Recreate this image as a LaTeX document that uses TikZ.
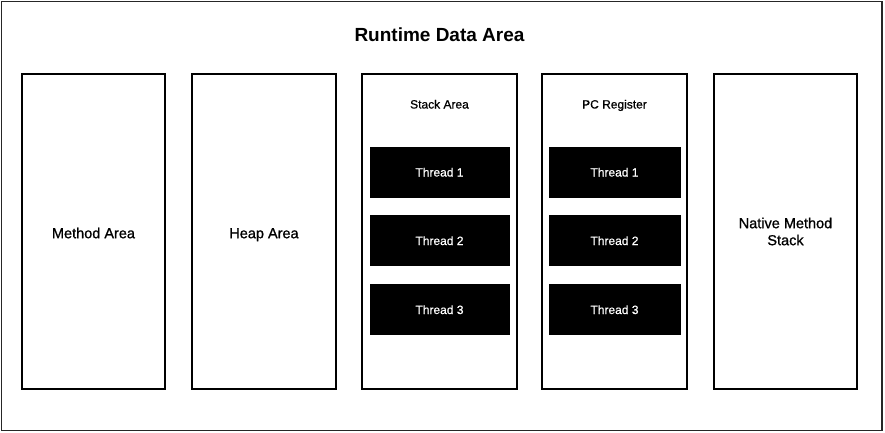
\documentclass[tikz,border=0pt]{standalone}
\usepackage{fontspec}
\setmainfont{Liberation Sans}
\newfontfamily\medfont[FakeBold=0.9]{Liberation Sans}
\newfontfamily\smallfont[FakeBold=0.7]{Liberation Sans}
\begin{document}
\begin{tikzpicture}[x=1pt,y=-1pt,
  area/.style={draw=black, line width=2pt, fill=white, inner sep=0pt, minimum height=315pt, align=center, font=\medfont\fontsize{14.5}{17}\selectfont},
  threadbox/.style={draw=black, fill=black, text=white, inner sep=0pt, minimum height=50pt, text height=9pt, text depth=0pt, font=\smallfont\fontsize{12}{14}\selectfont},
  label/.style={inner sep=0pt, text height=9pt, text depth=0pt, font=\smallfont\fontsize{12}{14}\selectfont}]
\useasboundingbox (0,0) rectangle (885,432);
\node[draw=black!85, line width=1.5pt, inner sep=0pt, minimum width=880.5pt, minimum height=429pt] (outer) at (441.75,216) {};
\node[inner sep=0pt, font=\bfseries\fontsize{19}{22}\selectfont] (title) at (439.5,35) {Runtime Data Area};
\node[area, minimum width=143pt, text height=13.4pt, text depth=0pt] (method) at (93.5,231.5) {Method Area};
\node[area, minimum width=144pt, text height=13.4pt, text depth=0pt] (heap) at (264,231.5) {Heap Area};
\node[area, minimum width=155pt] (stack) at (439.5,231.5) {};
\node[area, minimum width=145pt] (pc) at (614.5,231.5) {};
\node[area, minimum width=143pt] (native) at (785.5,231.5) {Native Method\\Stack};
\node[label] (stacklbl) at (439.5,104) {Stack Area};
\node[label] (pclbl) at (614.5,104) {PC Register};
\node[threadbox, minimum width=139pt] (s1) at (439.5,172) {Thread 1};
\node[threadbox, minimum width=139pt] (s2) at (439.5,240.5) {Thread 2};
\node[threadbox, minimum width=139pt] (s3) at (439.5,309.5) {Thread 3};
\node[threadbox, minimum width=131pt] (p1) at (614.5,172) {Thread 1};
\node[threadbox, minimum width=131pt] (p2) at (614.5,240.5) {Thread 2};
\node[threadbox, minimum width=131pt] (p3) at (614.5,309.5) {Thread 3};
\end{tikzpicture}
\end{document}
